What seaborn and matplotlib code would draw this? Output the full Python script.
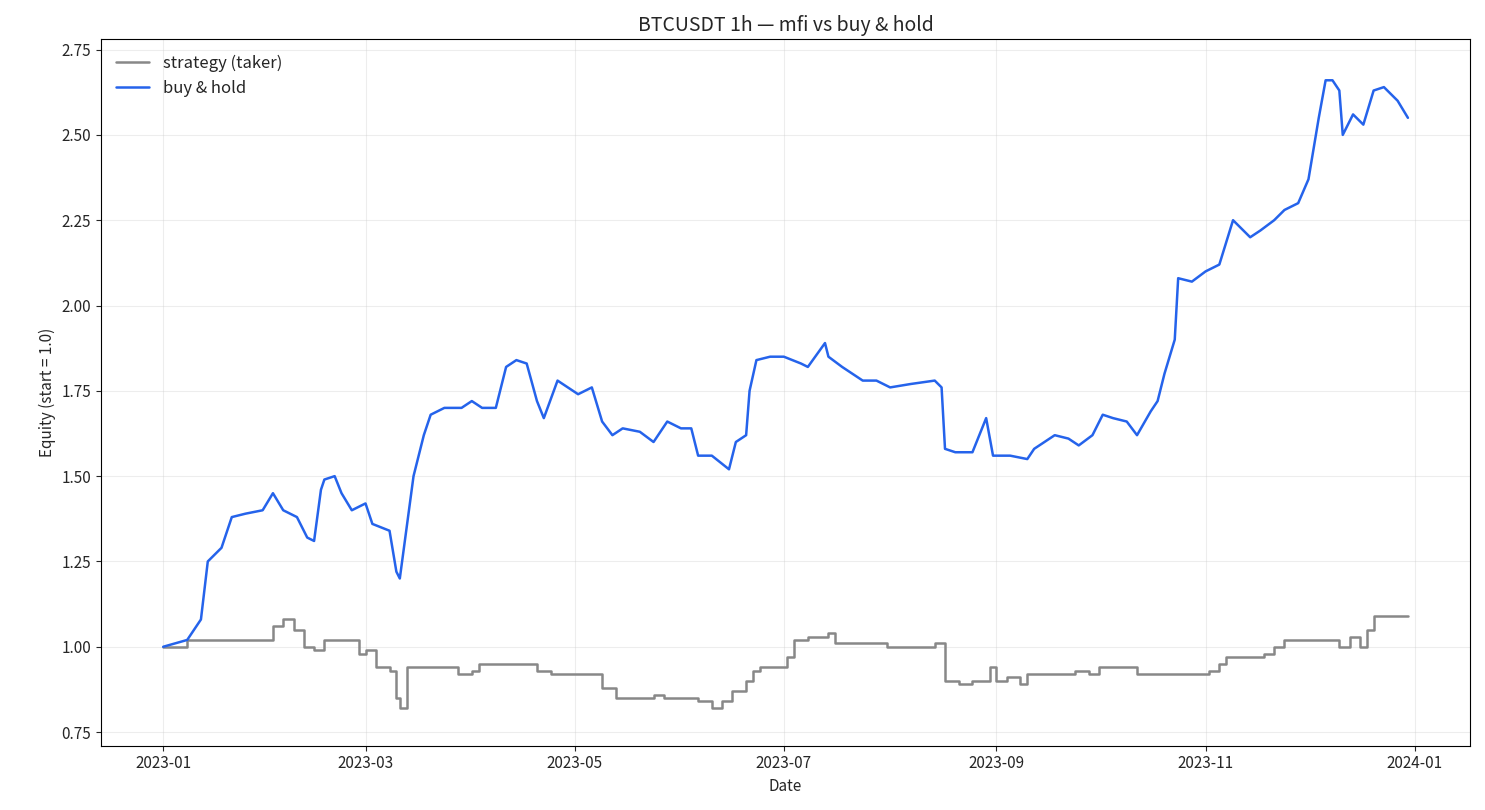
import pandas as pd
import numpy as np
import matplotlib
matplotlib.use("Agg")
import matplotlib.pyplot as plt
import seaborn as sns

# buy & hold equity (date, value)
bh_dates = ["01-01","01-08","01-12","01-14","01-18","01-21","01-25","01-30","02-02","02-05","02-09","02-12",
            "02-14","02-16","02-17","02-20","02-22","02-25","03-01","03-03","03-08","03-10","03-11","03-13",
            "03-15","03-18","03-20","03-24","03-29","04-01","04-04","04-08","04-11","04-14","04-17","04-20",
            "04-22","04-26","04-29","05-02","05-06","05-09","05-12","05-15","05-20","05-24","05-28","06-01",
            "06-04","06-06","06-10","06-15","06-17","06-20","06-21","06-23","06-27","07-01","07-06","07-08",
            "07-13","07-14","07-18","07-24","07-28","08-01","08-07","08-14","08-16","08-17","08-20","08-25",
            "08-29","08-31","09-05","09-10","09-12","09-15","09-18","09-22","09-25","09-29","10-02","10-05",
            "10-09","10-12","10-16","10-18","10-20","10-23","10-24","10-28","11-01","11-05","11-09","11-12",
            "11-14","11-17","11-21","11-24","11-28","12-01","12-04","12-06","12-08","12-10","12-11","12-14",
            "12-17","12-20","12-23","12-27","12-30"]
bh_values = [1.00,1.02,1.08,1.25,1.29,1.38,1.39,1.40,1.45,1.40,1.38,1.32,
             1.31,1.46,1.49,1.50,1.45,1.40,1.42,1.36,1.34,1.22,1.20,1.35,
             1.50,1.62,1.68,1.70,1.70,1.72,1.70,1.70,1.82,1.84,1.83,1.72,
             1.67,1.78,1.76,1.74,1.76,1.66,1.62,1.64,1.63,1.60,1.66,1.64,
             1.64,1.56,1.56,1.52,1.60,1.62,1.75,1.84,1.85,1.85,1.83,1.82,
             1.89,1.85,1.82,1.78,1.78,1.76,1.77,1.78,1.76,1.58,1.57,1.57,
             1.67,1.56,1.56,1.55,1.58,1.60,1.62,1.61,1.59,1.62,1.68,1.67,
             1.66,1.62,1.69,1.72,1.80,1.90,2.08,2.07,2.10,2.12,2.25,2.22,
             2.20,2.22,2.25,2.28,2.30,2.37,2.55,2.66,2.66,2.63,2.50,2.56,
             2.53,2.63,2.64,2.60,2.55]

# strategy (taker) equity
st_dates = ["01-01","01-05","01-08","02-01","02-02","02-05","02-08","02-11","02-14","02-17","02-23","02-27",
            "03-01","03-04","03-08","03-10","03-11","03-13","03-26","03-28","04-01","04-03","04-18","04-20",
            "04-24","05-06","05-09","05-13","05-20","05-24","05-27","06-02","06-06","06-10","06-13","06-16",
            "06-20","06-22","06-24","07-01","07-02","07-04","07-08","07-12","07-14","07-16","07-24","07-31",
            "08-14","08-17","08-21","08-25","08-30","09-01","09-04","09-08","09-10","09-20","09-24","09-28",
            "10-01","10-09","10-12","10-30","11-02","11-05","11-07","11-15","11-18","11-21","11-24","12-07",
            "12-10","12-13","12-16","12-18","12-20","12-30"]
st_values = [1.00,1.00,1.02,1.02,1.06,1.08,1.05,1.00,0.99,1.02,1.02,0.98,
             0.99,0.94,0.93,0.85,0.82,0.94,0.94,0.92,0.93,0.95,0.95,0.93,
             0.92,0.92,0.88,0.85,0.85,0.86,0.85,0.85,0.84,0.82,0.84,0.87,
             0.90,0.93,0.94,0.94,0.97,1.02,1.03,1.03,1.04,1.01,1.01,1.00,
             1.01,0.90,0.89,0.90,0.94,0.90,0.91,0.89,0.92,0.92,0.93,0.92,
             0.94,0.94,0.92,0.92,0.93,0.95,0.97,0.97,0.98,1.00,1.02,1.02,
             1.00,1.03,1.00,1.05,1.09,1.09]

bh = pd.DataFrame({"date": pd.to_datetime(["2023-" + d for d in bh_dates]), "equity": bh_values})
st = pd.DataFrame({"date": pd.to_datetime(["2023-" + d for d in st_dates]), "equity": st_values})

sns.set_style("white")
plt.rcParams["font.family"] = ["Noto Sans CJK KR", "DejaVu Sans"]

fig, ax = plt.subplots(figsize=(14.85, 8.1), dpi=100)
sns.lineplot(data=st, x="date", y="equity", ax=ax, color="#888888", lw=1.8,
             drawstyle="steps-post", label="strategy (taker)")
sns.lineplot(data=bh, x="date", y="equity", ax=ax, color="#2563eb", lw=1.8, label="buy & hold")

ax.set_title("BTCUSDT 1h — mfi vs buy & hold", fontsize=14)
ax.set_xlabel("Date", fontsize=11)
ax.set_ylabel("Equity (start = 1.0)", fontsize=11)
ax.set_yticks(np.arange(0.75, 2.76, 0.25))
ax.set_ylim(0.71, 2.78)
ax.set_xticks(pd.to_datetime(["2023-01-01","2023-03-01","2023-05-01","2023-07-01",
                              "2023-09-01","2023-11-01","2024-01-01"]))
ax.set_xticklabels(["2023-01","2023-03","2023-05","2023-07","2023-09","2023-11","2024-01"])
ax.tick_params(labelsize=11, left=True, bottom=True)
ax.grid(True, alpha=0.35)
for s in ax.spines.values():
    s.set_color("black")
ax.legend(loc="upper left", frameon=False, fontsize=12)
fig.tight_layout()
fig.subplots_adjust(left=0.068, right=0.99)
fig.savefig("out.png")
